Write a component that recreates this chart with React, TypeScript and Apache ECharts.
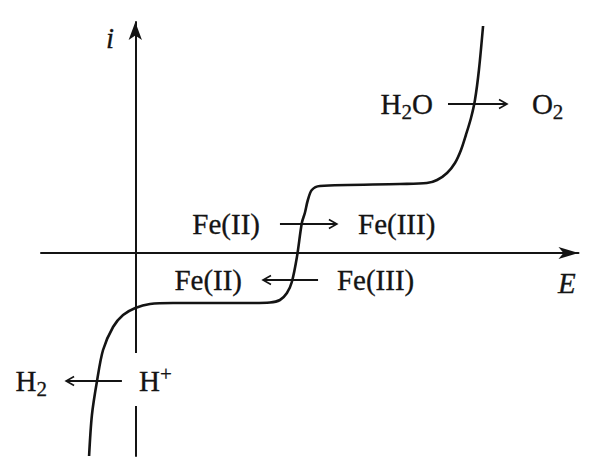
import { useEffect, useRef } from "react";
import * as echarts from "echarts";

// i–E curve: potential E (V) against current i (arbitrary units)
const potentialE = [
  -0.245, -0.23, -0.203, -0.171, -0.118, -0.065, 0.0, 0.078, 0.2, 0.608,
  0.714, 0.767, 0.804, 0.83, 0.857, 0.883, 0.899, 0.915, 0.936, 0.979,
  1.403, 1.546, 1.6, 1.653, 1.695, 1.727, 1.753, 1.78, 1.801, 1.822, 1.844,
];
const currentI = [
  -203, -162, -128, -97, -74, -62, -55, -51, -50, -50,
  -49.5, -47, -40, -29, -4, 30, 40, 53, 63, 67,
  69, 70, 73, 80, 90, 103, 118, 135, 153, 183, 227,
];

// Half-reactions written along the curve (rich-text markup for sub/superscripts)
const reactantLabels = ["H{sub|2}O", "Fe(II)", "Fe(III)", "H{sup|+}"];
const productLabels = ["O{sub|2}", "Fe(III)", "Fe(II)", "H{sub|2}"];
// Row placement in (E, i): current level, left text right edge, arrow start, arrow end, right text left edge
const rowLevelI = [149, 29, -27, -128];
const rowLeftTextE = [1.578, 0.661, 0.566, -0.468];
const rowArrowFromE = [1.658, 0.767, 0.969, -0.071];
const rowArrowToE = [1.971, 1.069, 0.677, -0.367];
const rowRightTextE = [2.103, 1.181, 1.069, 0.02];
// The oxidation arrows point right (reactant on the left), the reductions point left
const rowPointsRight = [true, true, false, false];

const FONT = '"Liberation Serif", "DejaVu Serif", "Times New Roman", serif';
const INK = "#141414";

export default function App() {
  const ref = useRef<HTMLDivElement>(null);

  useEffect(() => {
    const el = ref.current;
    if (!el) return;
    const chart = echarts.init(el, null, { renderer: "svg" });

    const axisCommon = {
      type: "value" as const,
      axisLine: {
        onZero: true,
        symbol: ["none", "arrow"],
        lineStyle: { color: INK, width: 2 },
      },
      axisTick: { show: false },
      axisLabel: { show: false },
      splitLine: { show: false },
    };

    chart.setOption({
      animation: false,
      backgroundColor: "#ffffff",
      grid: { left: 41, right: 17.5, top: 22, bottom: 6 },
      xAxis: {
        ...axisCommon,
        min: -0.5,
        max: 2.35,
        axisLine: { ...axisCommon.axisLine, symbolSize: [9, 20] },
      },
      yAxis: {
        ...axisCommon,
        min: -203,
        max: 231,
        axisLine: { ...axisCommon.axisLine, symbolSize: [10, 18] },
      },
      series: [
        {
          type: "line",
          data: potentialE.map((e, k) => [e, currentI[k]]),
          smooth: 0.3,
          symbol: "none",
          clip: false,
          lineStyle: { color: INK, width: 2.6 },
        },
      ],
    });

    const px = (e: number, i: number) =>
      chart.convertToPixel({ gridIndex: 0 }, [e, i]) as number[];

    const rich = {
      sub: { fontSize: 21, lineHeight: 19, verticalAlign: "bottom", fontFamily: FONT, fill: INK },
      sup: { fontSize: 21, lineHeight: 19, verticalAlign: "top", fontFamily: FONT, fill: INK },
    };
    const label = (text: string, x: number, y: number, align: string, italic = false) => ({
      type: "text",
      z: 100,
      x,
      y,
      style: {
        text,
        fontFamily: FONT,
        fontSize: 29,
        fontStyle: italic ? "italic" : "normal",
        lineHeight: 36,
        fill: INK,
        stroke: INK,
        lineWidth: 0.3,
        align,
        verticalAlign: "middle",
        rich,
      },
    });

    const graphics: any[] = [];

    // Gap in the i axis behind the H+ label
    const gapTop = px(0, -100);
    const gapBottom = px(0, -153);
    graphics.push({
      type: "rect",
      z: 100,
      shape: { x: gapTop[0] - 5, y: gapTop[1], width: 10, height: gapBottom[1] - gapTop[1] },
      style: { fill: "#ffffff" },
    });

    // Axis titles
    const iPos = px(-0.134, 215);
    graphics.push(label("i", iPos[0], iPos[1], "center", true));
    const ePos = px(2.288, -30);
    graphics.push(label("E", ePos[0], ePos[1], "center", true));

    rowLevelI.forEach((level, k) => {
      const leftText = rowPointsRight[k] ? reactantLabels[k] : productLabels[k];
      const rightText = rowPointsRight[k] ? productLabels[k] : reactantLabels[k];
      const l = px(rowLeftTextE[k], level);
      const r = px(rowRightTextE[k], level);
      graphics.push(label(leftText, l[0], l[1], "right"));
      graphics.push(label(rightText, r[0], r[1], "left"));

      const a = px(rowArrowFromE[k], level);
      const b = px(rowArrowToE[k], level);
      const dir = b[0] > a[0] ? 1 : -1;
      graphics.push({
        type: "line",
        z: 100,
        shape: { x1: a[0], y1: a[1], x2: b[0], y2: b[1] },
        style: { stroke: INK, lineWidth: 1.8 },
      });
      graphics.push({
        type: "polyline",
        z: 100,
        shape: {
          points: [
            [b[0] - dir * 8, b[1] - 4.5],
            [b[0], b[1]],
            [b[0] - dir * 8, b[1] + 4.5],
          ],
        },
        style: { stroke: INK, lineWidth: 1.6, fill: "none" },
      });
    });

    chart.setOption({ graphic: graphics });

    return () => chart.dispose();
  }, []);

  return (
    <div
      ref={ref}
      style={{ position: "fixed", left: 0, top: 0, width: 596, height: 462 }}
    />
  );
}
